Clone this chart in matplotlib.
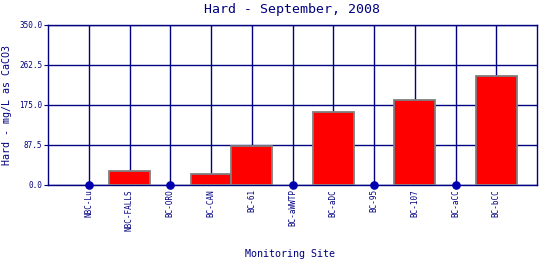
import matplotlib
matplotlib.use('Agg')
import matplotlib.pyplot as plt
import numpy as np

sites = ['NBC-Lu', 'NBC-FALLS', 'BC-ORO', 'BC-CAN', 'BC-61', 'BC-aWWTP',
         'BC-aDC', 'BC-95', 'BC-107', 'BC-aCC', 'BC-bCC']
hard = [0, 31, 0, 23, 85, 0, 159, 0, 185, 0, 238]
yticks = [0.0, 87.5, 175.0, 262.5, 350.0]

navy = '#000080'
plt.rcParams['font.family'] = 'DejaVu Sans Mono'

fig = plt.figure(figsize=(5.4, 2.6), dpi=100)
ax = fig.add_axes([48 / 540, 75 / 260, 489 / 540, 160 / 260])

x = np.arange(len(sites))
vals = np.array(hard, dtype=float)
bar = vals > 0
ax.bar(x[bar], vals[bar], width=1.0, color='#ff0000', edgecolor='#808080',
       linewidth=1.3, zorder=3)
ax.plot(x[~bar], vals[~bar], 'o', color='#0000b0', markersize=5.2,
        clip_on=False, zorder=4)

ax.set_xlim(-1, len(sites))
ax.set_ylim(0, 350)
ax.set_yticks(yticks)
ax.set_yticklabels(['%.1f' % v for v in yticks], fontsize=5.5, color=navy)
ax.set_xticks(x)
ax.set_xticklabels(sites, rotation=90, fontsize=5.5, color=navy)
ax.tick_params(axis='y', length=3, color=navy, pad=1)
ax.tick_params(axis='x', length=0, pad=3)
ax.grid(True, color=navy, linewidth=1.0, zorder=1)
ax.set_axisbelow(True)
for s in ax.spines.values():
    s.set_color(navy)
    s.set_linewidth(1.0)

fig.text(292 / 540, 1 - 10 / 260, 'Hard - September, 2008', ha='center',
         va='center', fontsize=9.5, color=navy)
fig.text(7.5 / 540, 1 - 105 / 260, 'Hard - mg/L as CaCO3', rotation=90,
         ha='center', va='center', fontsize=7.2, color=navy)
fig.text(290 / 540, 1 - 254 / 260, 'Monitoring Site', ha='center',
         va='center', fontsize=7.2, color=navy)

fig.savefig('out.png', dpi=100)
